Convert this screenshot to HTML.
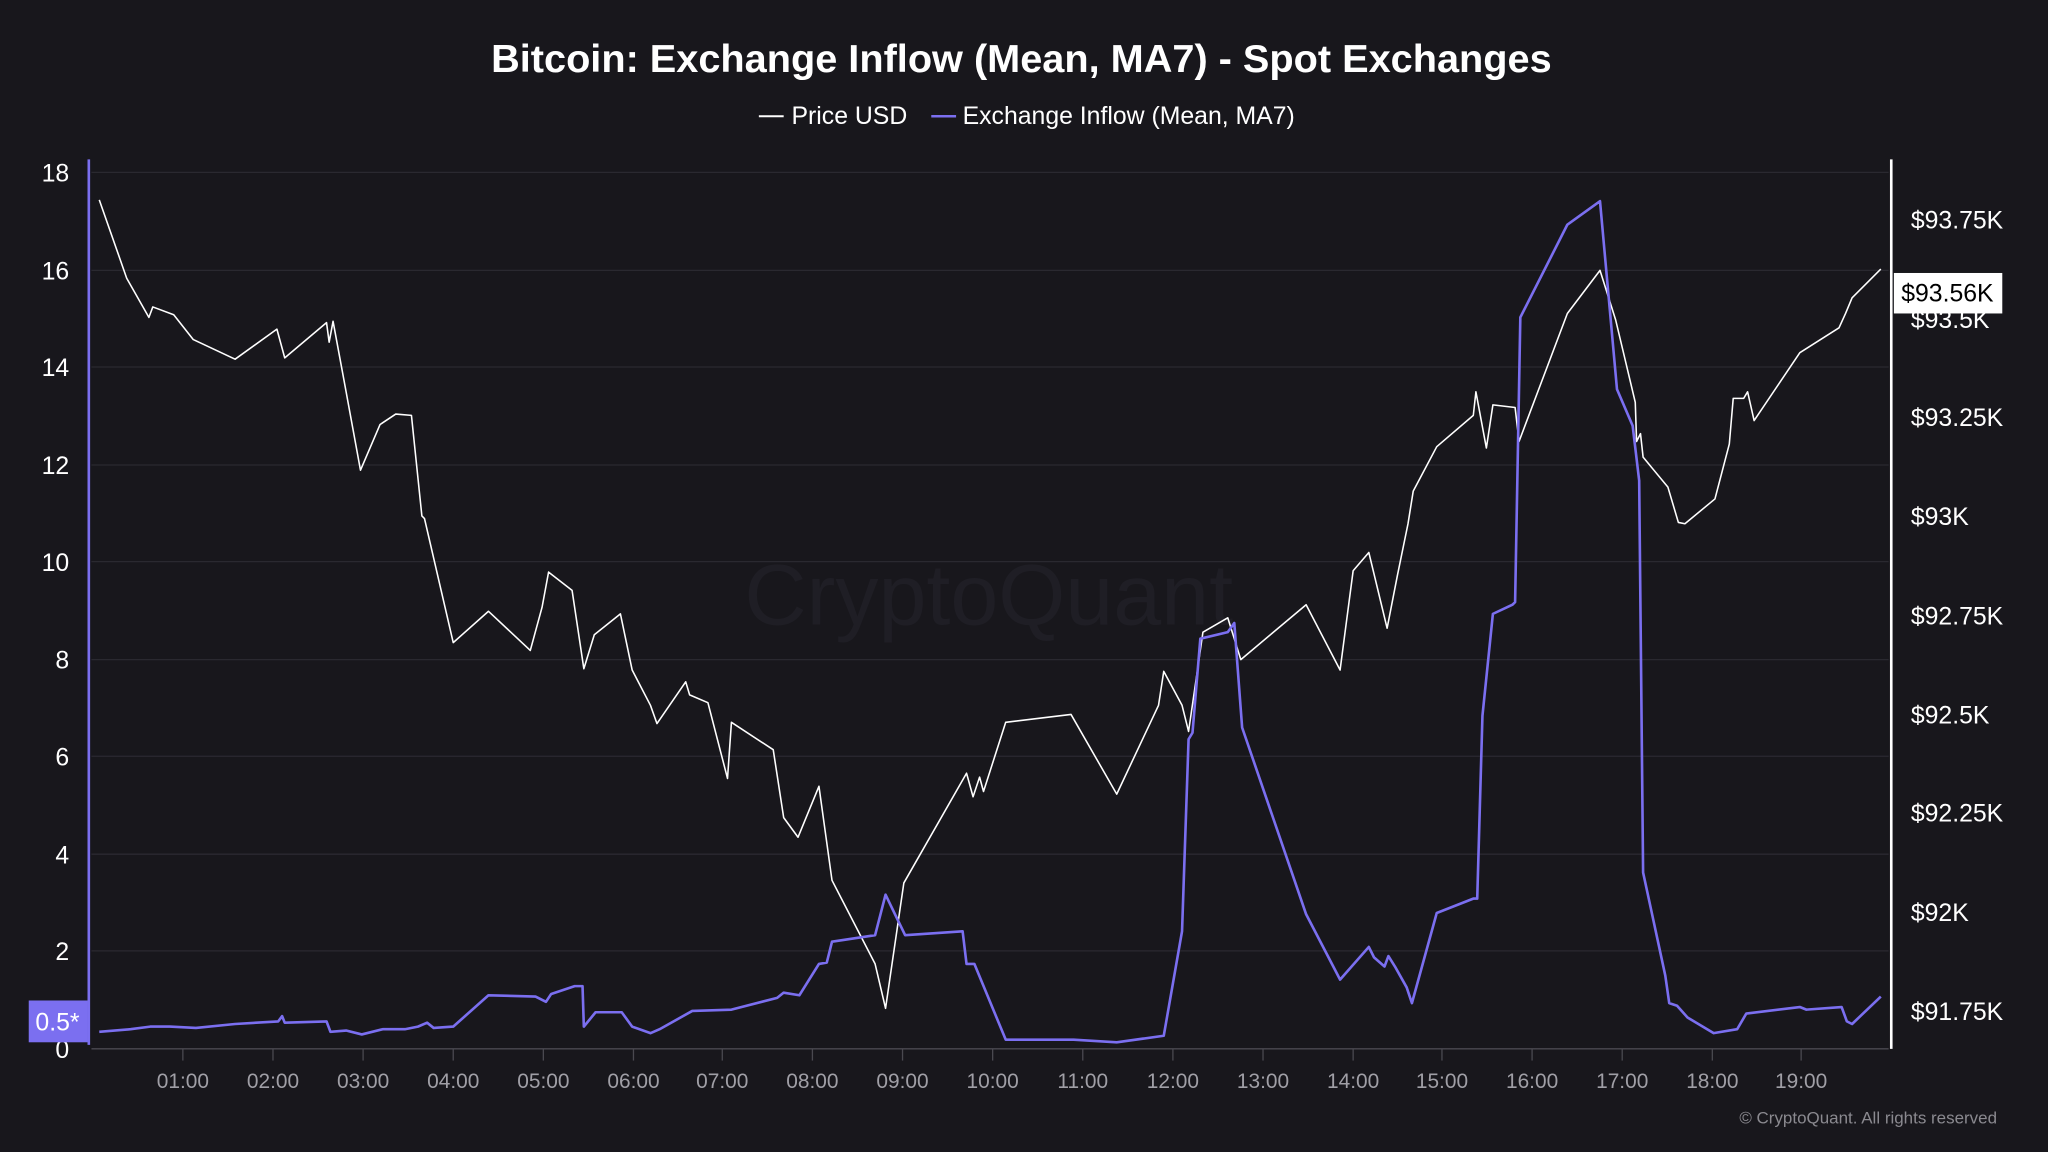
<!DOCTYPE html>
<html><head><meta charset="utf-8"><style>
html,body{margin:0;padding:0;background:#18171c;}
svg{display:block}
text{font-family:"Liberation Sans",sans-serif;}
</style></head><body>
<svg width="2048" height="1152" viewBox="0 0 1568 882" xmlns="http://www.w3.org/2000/svg">
<rect width="1568" height="882" fill="#18171c"/>
<text x="782" y="55" text-anchor="middle" fill="#ffffff" font-size="30" font-weight="bold" textLength="812" lengthAdjust="spacingAndGlyphs">Bitcoin: Exchange Inflow (Mean, MA7) - Spot Exchanges</text>
<line x1="581" y1="89" x2="600" y2="89" stroke="#ffffff" stroke-width="1.5"/>
<text x="606" y="95" fill="#ffffff" font-size="19">Price USD</text>
<line x1="713" y1="89" x2="732" y2="89" stroke="#7b6ff0" stroke-width="2"/>
<text x="737" y="95" fill="#ffffff" font-size="19">Exchange Inflow (Mean, MA7)</text>
<text x="757" y="478" text-anchor="middle" fill="#1f1e25" font-size="66">CryptoQuant</text>
<g stroke="#2a2930" stroke-width="1">
<line x1="70" y1="132" x2="1446" y2="132"/><line x1="70" y1="207" x2="1446" y2="207"/>
<line x1="70" y1="281" x2="1446" y2="281"/><line x1="70" y1="356" x2="1446" y2="356"/>
<line x1="70" y1="430" x2="1446" y2="430"/><line x1="70" y1="505" x2="1446" y2="505"/>
<line x1="70" y1="579" x2="1446" y2="579"/><line x1="70" y1="654" x2="1446" y2="654"/>
<line x1="70" y1="728" x2="1446" y2="728"/>
</g>
<line x1="70" y1="803" x2="1446" y2="803" stroke="#4a4950" stroke-width="1"/>
<g fill="#ffffff" font-size="19" text-anchor="end">
<text x="53" y="139">18</text><text x="53" y="214">16</text><text x="53" y="288">14</text>
<text x="53" y="363">12</text><text x="53" y="437">10</text><text x="53" y="512">8</text>
<text x="53" y="586">6</text><text x="53" y="661">4</text><text x="53" y="735">2</text>
<text x="53" y="810">0</text>
</g>
<g fill="#ffffff" font-size="19">
<text x="1463" y="175">$93.75K</text><text x="1463" y="251">$93.5K</text>
<text x="1463" y="326">$93.25K</text><text x="1463" y="402">$93K</text>
<text x="1463" y="478">$92.75K</text><text x="1463" y="554">$92.5K</text>
<text x="1463" y="629">$92.25K</text><text x="1463" y="705">$92K</text>
<text x="1463" y="781">$91.75K</text>
</g>
<g fill="#a09fa6" font-size="16" text-anchor="middle">
<text x="140" y="833">01:00</text><text x="209" y="833">02:00</text><text x="278" y="833">03:00</text>
<text x="347" y="833">04:00</text><text x="416" y="833">05:00</text><text x="485" y="833">06:00</text>
<text x="553" y="833">07:00</text><text x="622" y="833">08:00</text><text x="691" y="833">09:00</text>
<text x="760" y="833">10:00</text><text x="829" y="833">11:00</text><text x="898" y="833">12:00</text>
<text x="967" y="833">13:00</text><text x="1036" y="833">14:00</text><text x="1104" y="833">15:00</text>
<text x="1173" y="833">16:00</text><text x="1242" y="833">17:00</text><text x="1311" y="833">18:00</text>
<text x="1379" y="833">19:00</text>
</g>
<g stroke="#4a4950" stroke-width="1">
<line x1="140" y1="803" x2="140" y2="812"/><line x1="209" y1="803" x2="209" y2="812"/><line x1="278" y1="803" x2="278" y2="812"/><line x1="347" y1="803" x2="347" y2="812"/><line x1="416" y1="803" x2="416" y2="812"/><line x1="485" y1="803" x2="485" y2="812"/><line x1="553" y1="803" x2="553" y2="812"/><line x1="622" y1="803" x2="622" y2="812"/><line x1="691" y1="803" x2="691" y2="812"/><line x1="760" y1="803" x2="760" y2="812"/><line x1="829" y1="803" x2="829" y2="812"/><line x1="898" y1="803" x2="898" y2="812"/><line x1="967" y1="803" x2="967" y2="812"/><line x1="1036" y1="803" x2="1036" y2="812"/><line x1="1104" y1="803" x2="1104" y2="812"/><line x1="1173" y1="803" x2="1173" y2="812"/><line x1="1242" y1="803" x2="1242" y2="812"/><line x1="1311" y1="803" x2="1311" y2="812"/><line x1="1379" y1="803" x2="1379" y2="812"/>
</g>
<line x1="68" y1="122" x2="68" y2="800" stroke="#7b6ff0" stroke-width="2"/>
<line x1="1448" y1="122" x2="1448" y2="803" stroke="#ffffff" stroke-width="2"/>
<polyline fill="none" stroke="#ffffff" stroke-width="1.2" stroke-linejoin="round" points="76,153 97,213 114,243 117,235 133,241 148,260 180,275 212,252 218,274 250,247 252,262 255,246 265,300 276,360 291,325 303,317 315,318 323,395 325,397 347,492 374,468 406,498 415,465 420,438 438,452 447,512 455,486 475,470 484,513 498,540 503,554 525,522 528,532 542,538 557,596 560,553 592,574 600,626 611,641 627,602 637,674 670,738 678,772 692,676 740,592 745,610 750,595 753,606 770,553 820,547 855,608 887,540 891,514 905,540 910,560 921,484 940,473 950,505 1000,463 1026,513 1036,437 1048,423 1062,481 1070,440 1078,401 1082,376 1100,342 1128,318 1130,300 1138,343 1143,310 1160,312 1163,338 1200,240 1225,207 1237,245 1252,308 1253,338 1256,332 1258,350 1277,373 1285,400 1290,401 1313,382 1324,340 1327,305 1335,305 1338,300 1343,322 1378,270 1408,251 1413,240 1418,228 1440,206"/>
<polyline fill="none" stroke="#7b6ff0" stroke-width="2" stroke-linejoin="round" points="76,790 100,788 115,786 130,786 150,787 180,784 213,782 216,778 218,783 250,782 253,790 265,789 277,792 293,788 310,788 320,786 327,783 332,787 347,786 374,762 410,763 418,767 422,761 440,755 446,755 447,786 456,775 476,775 484,786 498,791 505,788 530,774 560,773 595,764 600,760 612,762 627,738 633,737 637,721 670,716 678,685 693,716 737,713 740,738 746,738 770,796 822,796 855,798 891,793 905,713 910,566 913,561 919,489 940,484 945,477 951,557 1000,700 1026,750 1048,725 1052,733 1060,740 1063,732 1068,740 1077,756 1081,768 1100,699 1128,688 1131,688 1135,548 1143,470 1158,463 1160,461 1164,243 1200,172 1225,154 1238,298 1250,326 1255,368 1258,668 1275,747 1278,768 1284,770 1292,779 1312,791 1330,788 1337,776 1378,771 1383,773 1410,771 1414,782 1418,784 1440,763"/>
<rect x="22" y="766" width="45" height="32" fill="#7b6ff0"/>
<text x="44" y="789" text-anchor="middle" fill="#ffffff" font-size="19">0.5*</text>
<rect x="1450" y="209" width="83" height="31" fill="#ffffff"/>
<text x="1491" y="231" text-anchor="middle" fill="#000000" font-size="19">$93.56K</text>
<text x="1529" y="860" text-anchor="end" fill="#8a898f" font-size="13">© CryptoQuant. All rights reserved</text>
</svg>
</body></html>
